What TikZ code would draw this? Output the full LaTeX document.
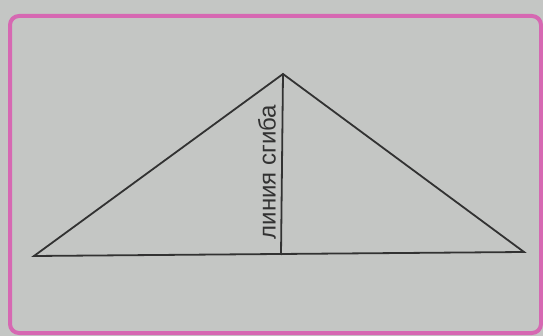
\documentclass[tikz,border=0pt]{standalone}
\usepackage{fontspec}
\setmainfont{Liberation Sans}
\definecolor{bggray}{RGB}{196,198,196}
\definecolor{framepink}{RGB}{214,104,178}
\definecolor{inkgray}{RGB}{50,50,50}
\tikzset{
  frame/.style={draw=framepink, line width=4pt, rounded corners=9pt},
  edge/.style={draw=inkgray, line width=1.8pt, line join=miter},
  foldlabel/.style={rotate=90, font=\fontsize{24}{24}\selectfont, text=inkgray, inner sep=0pt}
}
\begin{document}
\begin{tikzpicture}[x=1pt,y=-1pt]
\fill[bggray] (0,0) rectangle (543,336);
\useasboundingbox (0,0) rectangle (543,336);
\draw[frame] (10,16) rectangle (541,333);
\coordinate (L) at (34,256);
\coordinate (A) at (283,74);
\coordinate (R) at (524,252);
\coordinate (F) at (281,255);
\draw[edge] (L) -- (A) -- (R) -- cycle;
\draw[edge] (A) -- (F);
\node[foldlabel, anchor=south] (lbl) at (276,172) {линия сгиба};
\end{tikzpicture}
\end{document}
